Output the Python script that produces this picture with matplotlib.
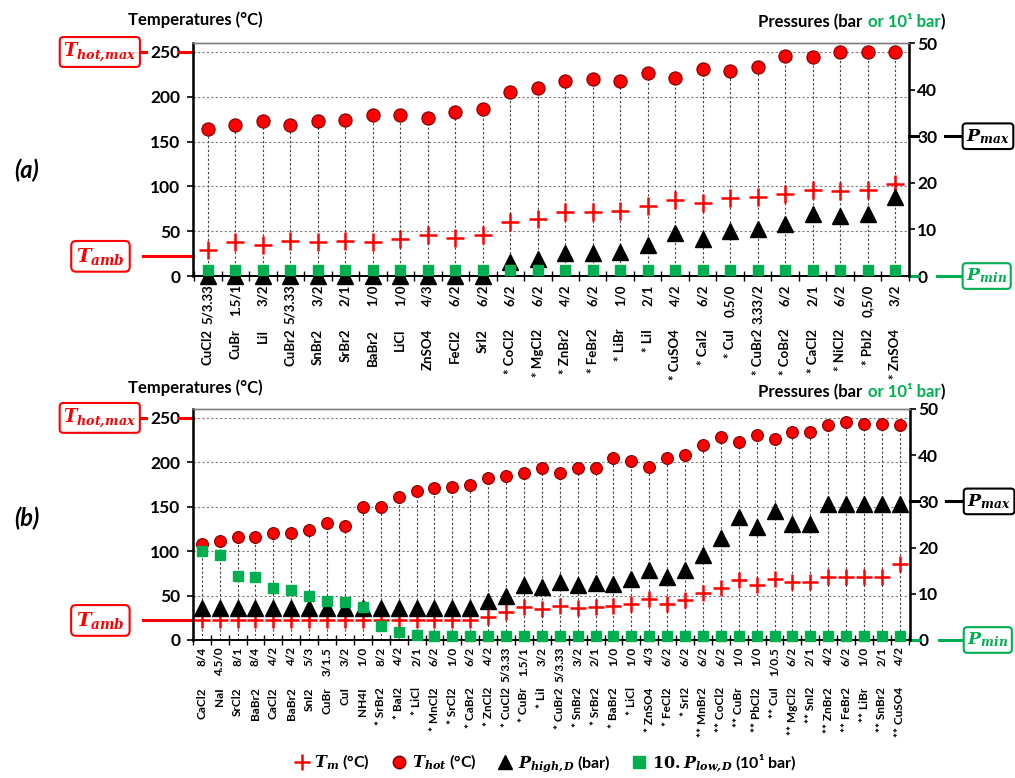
import matplotlib.pyplot as plt
from matplotlib.lines import Line2D
from matplotlib.offsetbox import TextArea, HPacker, AnnotationBbox
import numpy as np

plt.rcParams['font.family'] = ['Lato', 'DejaVu Sans']
plt.rcParams['font.weight'] = 'bold'
plt.rcParams['mathtext.fontset'] = 'dejavuserif'

RED = '#FF0000'
GREEN = '#00B050'

# ---------------------------------------------------------------- data (a)
names_a = ['CuCl2', 'CuBr', 'LiI', 'CuBr2', 'SnBr2', 'SrBr2', 'BaBr2', 'LiCl', 'ZnSO4', 'FeCl2', 'SrI2',
           '* CoCl2', '* MgCl2', '* ZnBr2', '* FeBr2', '* LiBr', '* LiI', '* CuSO4', '* CaI2', '* CuI',
           '* CuBr2', '* CoBr2', '* CaCl2', '* NiCl2', '* PbI2', '* ZnSO4']
ratios_a = ['5/3.33', '1.5/1', '3/2', '5/3.33', '3/2', '2/1', '1/0', '1/0', '4/3', '6/2', '6/2',
            '6/2', '6/2', '4/2', '6/2', '1/0', '2/1', '4/2', '6/2', '0.5/0',
            '3.33/2', '6/2', '2/1', '6/2', '0,5/0', '3/2']
t_hot_a = [164, 168, 173, 168, 173, 174, 180, 180, 176, 183, 186,
           205, 210, 218, 220, 218, 226, 221, 231, 229, 233, 245, 244, 250, 250, 250]
t_m_a = [29, 38, 35, 39, 38, 39, 38, 41, 46, 42, 46,
         60, 64, 72, 72, 73, 78, 85, 82, 87, 88, 92, 96, 95, 96, 103]
p_high_a = [0, 0, 0, 0, 0, 0, 0, 0, 0, 0, 0,
            3.1, 3.6, 5.0, 5.0, 5.2, 6.7, 9.2, 7.9, 9.7, 10.1, 11.1, 13.4, 12.9, 13.4, 17.0]
p_low_a = [1.3, 1.3, 1.3, 1.3, 1.3, 1.3, 1.3, 1.3, 1.3, 1.3, 1.3,
           1.3, 1.3, 1.3, 1.3, 1.3, 1.3, 1.3, 1.3, 1.3, 1.3, 1.3, 1.3, 1.3, 1.3, 1.3]

# ---------------------------------------------------------------- data (b)
names_b = ['CaCl2', 'NaI', 'SrCl2', 'BaBr2', 'CaCl2', 'BaBr2', 'SnI2', 'CuBr', 'CuI', 'NH4I',
           '* SrBr2', '* BaI2', '* LiCl', '* MnCl2', '* SrCl2', '* CaBr2', '* ZnCl2', '* CuCl2', '* CuBr',
           '* LiI', '* CuBr2', '* SnBr2', '* SrBr2', '* BaBr2', '* LiCl', '* ZnSO4', '* FeCl2', '* SrI2',
           '** MnBr2', '** CoCl2', '** CuBr', '** PbCl2', '** CuI', '** MgCl2', '** SnI2', '** ZnBr2',
           '** FeBr2', '** LiBr', '** SnBr2', '** CuSO4']
ratios_b = ['8/4', '4.5/0', '8/1', '8/4', '4/2', '4/2', '5/3', '3/1.5', '3/2', '1/0',
            '8/2', '4/2', '2/1', '6/2', '1/0', '6/2', '4/2', '5/3.33', '1.5/1',
            '3/2', '5/3.33', '3/2', '2/1', '1/0', '1/0', '4/3', '6/2', '6/2',
            '6/2', '6/2', '1/0', '1/0', '1/0.5', '6/2', '2/1', '4/2',
            '6/2', '1/0', '2/1', '4/2']
t_hot_b = [108, 111, 116, 116, 120, 120, 124, 132, 128, 150,
           150, 161, 168, 171, 172, 175, 182, 185, 188, 194, 188, 194, 194, 205, 202, 195, 205, 208,
           220, 229, 223, 231, 226, 234, 234, 242, 245, 243, 243, 242]
t_m_b = [22, 22, 22, 22, 22, 22, 22, 22, 22, 22,
         22, 22, 22, 22, 22, 22, 26, 31, 37, 35, 38, 36, 37.5, 38, 41, 46, 41, 45,
         53, 59, 67, 62, 69, 65, 65, 71, 71, 71, 71, 85]
p_high_b = [7, 7, 7, 7, 7, 7, 7, 7, 7, 7,
            7, 7, 7, 7, 7, 7, 8.5, 9.6, 11.9, 11.4, 12.5, 11.8, 12.3, 12.2, 13.1, 15.2, 13.6, 15.1,
            18.5, 22.1, 26.7, 24.4, 27.9, 25.0, 25.0, 29.5, 29.5, 29.5, 29.5, 29.5]
p_low_b = [19.3, 18.5, 13.8, 13.6, 11.3, 10.9, 9.6, 8.5, 8.2, 7.1,
           3.0, 1.8, 1.1, 0.9, 0.8, 0.8, 0.8, 0.8, 0.8, 0.8, 0.8, 0.8, 0.8, 0.8, 0.8, 0.8, 0.8, 0.8,
           0.8, 0.8, 0.8, 0.8, 0.8, 0.8, 0.8, 0.8, 0.8, 0.8, 0.8, 0.8]

T_AMB = 22
T_HOT_MAX = 250
P_MAX = 30
P_MIN = 0


def draw_panel(ax, names, ratios, t_hot, t_m, p_high, p_low, xlim, ms, ratio_off, name_off, lab_size):
    n = len(names)
    x = np.arange(n)

    ax.vlines(x, 0, t_hot, colors='#404040', linestyles=(0, (2, 2)), lw=0.8, zorder=1)
    ax.plot(x, t_hot, 'o', mfc=RED, mec='#7a0000', mew=0.8, ms=ms['o'], zorder=4)
    ax.plot(x, t_m, '+', color=RED, ms=ms['+'], mew=1.8, zorder=5)

    ax.set_xlim(xlim)
    ax.set_ylim(0, 260)
    ax.set_yticks([0, 50, 100, 150, 200, 250])
    ax.yaxis.grid(True, linestyle=(0, (2, 2)), color='#7f7f7f', lw=0.8)
    ax.set_axisbelow(True)

    ax.set_xticks(x)
    ax.set_xticklabels([])
    ax.tick_params(axis='x', which='major', length=0)
    ax.set_xticks(np.arange(n + 1) - 0.5, minor=True)
    ax.tick_params(axis='x', which='minor', direction='inout', length=7, width=1)
    ax.tick_params(axis='y', direction='out', length=4, width=1.2, labelsize=12.5, pad=5)

    for i in range(n):
        ax.annotate(ratios[i], xy=(i, 0), xycoords=ax.get_xaxis_transform(),
                    xytext=(0, -ratio_off), textcoords='offset points',
                    rotation=90, ha='center', va='top', fontsize=lab_size)
        ax.annotate(names[i], xy=(i, 0), xycoords=ax.get_xaxis_transform(),
                    xytext=(0, -name_off), textcoords='offset points',
                    rotation=90, ha='center', va='top', fontsize=lab_size)

    ax2 = ax.twinx()
    ax2.plot(x, p_high, '^', color='black', ms=ms['^'], clip_on=False, zorder=3)
    ax2.plot(x, p_low, 's', color=GREEN, ms=ms['s'], clip_on=False, zorder=4)
    ax2.set_ylim(0, 50)
    ax2.set_yticks([0, 10, 20, 30, 40, 50])
    ax2.tick_params(axis='y', direction='out', length=4, width=1.2, labelsize=12.5, pad=2)

    for a in (ax, ax2):
        a.spines['top'].set_color('#808080')
        a.spines['top'].set_linewidth(1.0)
        a.spines['bottom'].set_linewidth(1.2)
    ax.spines['left'].set_linewidth(1.8)
    ax2.spines['right'].set_linewidth(1.8)

    # left side boxes
    tl = ax.get_yaxis_transform()
    ax.plot([-0.078, -0.066], [T_HOT_MAX, T_HOT_MAX], transform=tl, clip_on=False, color=RED, lw=2.2)
    ax.plot([-0.019, 0], [T_HOT_MAX, T_HOT_MAX], transform=tl, clip_on=False, color=RED, lw=2.2)
    ax.text(-0.079, T_HOT_MAX, r'$\mathbfit{T_{hot,\!max}}$', transform=tl, color=RED, fontsize=13,
            ha='right', va='center',
            bbox=dict(boxstyle='round,pad=0.2', fc='white', ec=RED, lw=1.5))
    ax.plot([-0.070, 0], [T_AMB, T_AMB], transform=tl, clip_on=False, color=RED, lw=2.2)
    ax.text(-0.129, T_AMB, r'$\mathbfit{T_{amb}}$', transform=tl, color=RED, fontsize=14,
            ha='center', va='center',
            bbox=dict(boxstyle='round,pad=0.25', fc='white', ec=RED, lw=1.5))

    # right side boxes
    tr = ax2.get_yaxis_transform()
    ax2.plot([1.0, 1.013], [P_MAX, P_MAX], transform=tr, clip_on=False, color='black', lw=2.2)
    ax2.plot([1.050, 1.074], [P_MAX, P_MAX], transform=tr, clip_on=False, color='black', lw=2.2)
    ax2.text(1.080, P_MAX, r'$\mathbfit{P_{max}}$', transform=tr, color='black', fontsize=12.5,
             ha='left', va='center',
             bbox=dict(boxstyle='round,pad=0.2', fc='white', ec='black', lw=1.5))
    ax2.plot([1.0, 1.013], [P_MIN, P_MIN], transform=tr, clip_on=False, color=GREEN, lw=2.2)
    ax2.plot([1.040, 1.074], [P_MIN, P_MIN], transform=tr, clip_on=False, color=GREEN, lw=2.2)
    ax2.text(1.080, P_MIN, r'$\mathbfit{P_{min}}$', transform=tr, color=GREEN, fontsize=12.5,
             ha='left', va='center',
             bbox=dict(boxstyle='round,pad=0.2', fc='white', ec=GREEN, lw=1.5))
    return ax2


def headers(fig, y_temp, y_press):
    fig.text(195 / 1015, y_temp, 'Temperatures (°C)', fontsize=12, ha='center', va='center')
    props = dict(fontsize=12, fontweight='bold')
    part1 = TextArea('Pressures (bar', textprops=dict(color='black', **props))
    part2 = TextArea('or 10¹ bar', textprops=dict(color=GREEN, **props))
    part3 = TextArea(')', textprops=dict(color='black', **props))
    inner = HPacker(children=[part2, part3], align='baseline', pad=0, sep=0)
    box = HPacker(children=[part1, inner], align='baseline', pad=0, sep=4)
    ab = AnnotationBbox(box, (945 / 1015, y_press), xycoords='figure fraction',
                        box_alignment=(1, 0.5), frameon=False, pad=0)
    fig.add_artist(ab)


fig = plt.figure(figsize=(10.15, 7.78), dpi=100)

ax_a = fig.add_axes([0.190, 0.6452, 0.7054, 0.2995])
draw_panel(ax_a, names_a, ratios_a, t_hot_a, t_m_a, p_high_a, p_low_a, (-0.55, 25.47),
           {'o': 9.5, '+': 13, '^': 11, 's': 7.2}, 6, 38, 9.5)

ax_b = fig.add_axes([0.190, 0.1774, 0.7064, 0.2969])
draw_panel(ax_b, names_b, ratios_b, t_hot_b, t_m_b, p_high_b, p_low_b, (-0.5, 39.56),
           {'o': 8.5, '+': 12, '^': 12, 's': 6.7}, 5, 34, 8.5)

headers(fig, 1 - 20 / 778, 1 - 22 / 778)
headers(fig, 1 - 388 / 778, 1 - 392 / 778)

fig.text(27 / 1015, 1 - 170 / 778, '(a)', fontsize=17, fontstyle='italic', ha='center', va='center')
fig.text(27 / 1015, 1 - 518 / 778, '(b)', fontsize=17, fontstyle='italic', ha='center', va='center')

handles = [Line2D([], [], ls='', marker='+', color=RED, ms=11, mew=1.8),
           Line2D([], [], ls='', marker='o', mfc=RED, mec='#7a0000', ms=9),
           Line2D([], [], ls='', marker='^', color='black', ms=10),
           Line2D([], [], ls='', marker='s', color=GREEN, ms=8)]
labels = [r'$\mathbfit{T_m}$ (°C)', r'$\mathbfit{T_{hot}}$ (°C)', r'$\mathbfit{P_{high,\!D}}$ (bar)',
          r'$\mathbf{10.}\mathbfit{P_{low,\!D}}$ (10¹ bar)']
fig.legend(handles, labels, loc='center', bbox_to_anchor=(0.537, 0.019), ncol=4, frameon=False,
           fontsize=11.5, handletextpad=0.3, columnspacing=1.3, handlelength=1)

fig.savefig('out.png', dpi=100)
